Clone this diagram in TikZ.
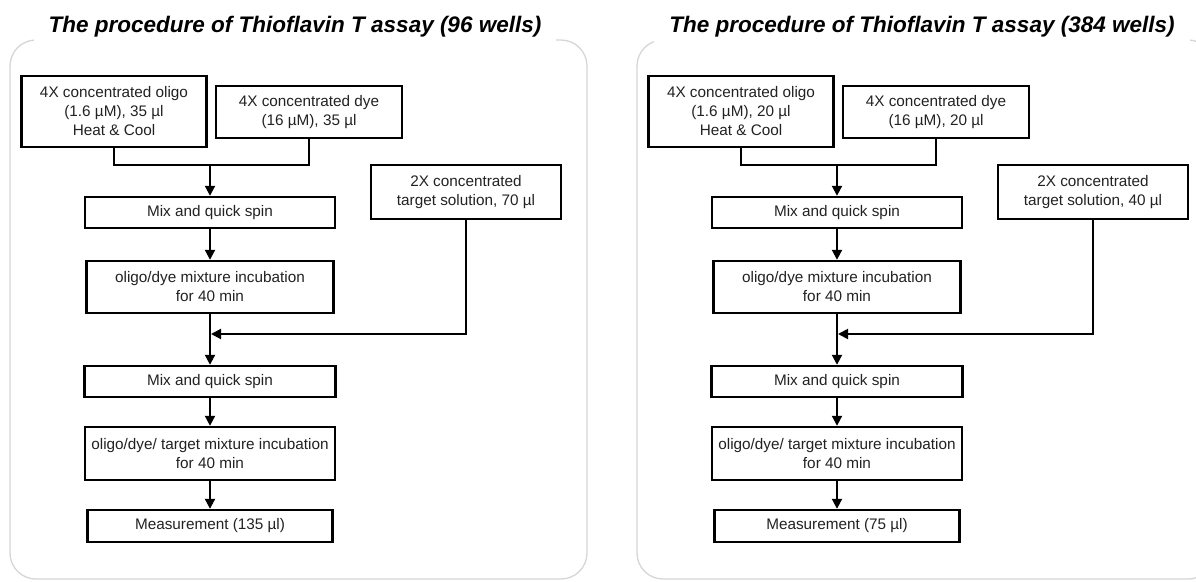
\documentclass[tikz,border=0pt]{standalone}
\usepackage{fontspec}
\setmainfont{Liberation Sans}
\usetikzlibrary{arrows.meta}
\definecolor{txt}{HTML}{222222}
\definecolor{panelgray}{HTML}{D6D6D6}
\tikzset{
  box/.style={draw=black, line width=2.4pt, align=center, text=txt,
    font=\fontsize{15.3}{19}\selectfont, inner sep=0pt, anchor=center},
  conn/.style={line width=2pt, draw=black},
  arr/.style={conn, -{Triangle[length=10pt,width=10pt]}},
  panel/.style={draw=panelgray, line width=1.3pt, rounded corners=26pt},
  ttl/.style={fill=white, inner xsep=15pt, inner ysep=8pt, text=black,
    font=\fontsize{22.5}{27}\selectfont\bfseries\itshape}
}
\newcommand{\flowpanel}[6]{%
  \draw[panel] (10,40) rectangle (587,579);
  \node[ttl] (#1title) at (295,27) {#2};
  \node[box, minimum width=185pt, minimum height=71pt] (#1A) at (114,111.5)
    {4X concentrated oligo\\(1.6 µM), #3\\Heat \& Cool};
  \node[box, minimum width=186pt, minimum height=52pt] (#1B) at (309,112)
    {4X concentrated dye\\(16 µM), #4};
  \node[box, minimum width=250pt, minimum height=31pt] (#1C) at (210,212.5)
    {Mix and quick spin};
  \node[box, minimum width=247pt, minimum height=52pt] (#1D) at (210,287)
    {oligo/dye mixture incubation\\for 40 min};
  \node[box, minimum width=190pt, minimum height=54pt] (#1T) at (466,192)
    {2X concentrated\\target solution, #5};
  \node[box, minimum width=251pt, minimum height=31pt] (#1E) at (210,381.5)
    {Mix and quick spin};
  \node[box, minimum width=250pt, minimum height=53pt] (#1F) at (210,453.5)
    {oligo/dye/ target mixture incubation\\for 40 min};
  \node[box, minimum width=245pt, minimum height=32pt] (#1G) at (210,526)
    {Measurement (#6)};
  \coordinate (#1J) at (210,165);
  \coordinate (#1M) at (211,334);
  \draw[conn] (#1A.south) |- (#1J) -| (#1B.south);
  \draw[arr] (#1J) -- (#1C.north);
  \draw[arr] (#1C) -- (#1D);
  \draw[arr] (#1D) -- (#1E);
  \draw[arr] (#1T.south) |- (#1M);
  \draw[arr] (#1E) -- (#1F);
  \draw[arr] (#1F) -- (#1G);
}
\begin{document}
\begin{tikzpicture}[x=1pt, y=-1pt]
  \useasboundingbox (0,0) rectangle (1196,581);
  \clip (0,0) rectangle (1196,581);
  \fill[white] (0,0) rectangle (1196,581);
  \flowpanel{l}{The procedure of Thioflavin T assay (96 wells)}{35 µl}{35 µl}{70 µl}{135 µl}
  \begin{scope}[xshift=627pt]
    \flowpanel{r}{The procedure of Thioflavin T assay (384 wells)}{20 µl}{20 µl}{40 µl}{75 µl}
  \end{scope}
\end{tikzpicture}
\end{document}
